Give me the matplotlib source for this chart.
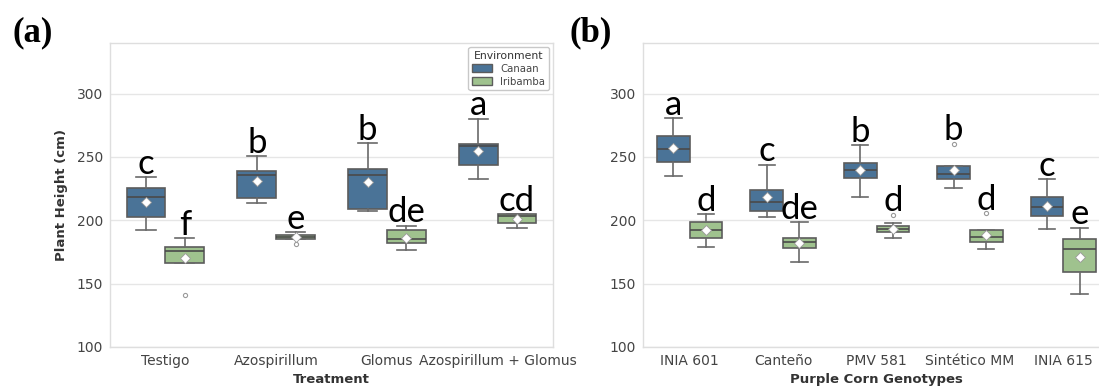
import numpy as np
import matplotlib.pyplot as plt


# data
treatments = ["Testigo", "Azospirillum", "Glomus", "Azospirillum + Glomus"]
genotypes = ["INIA 601", "Canteño", "PMV 581", "Sintético MM", "INIA 615"]
environments = ["Canaan", "Iribamba"]

# panel (a): box stats per treatment, for Canaan and Iribamba
a_canaan_whislo = [192.5, 213.6, 207.0, 232.6]
a_canaan_q1 = [202.5, 217.5, 209.1, 243.3]
a_canaan_med = [218.3, 236.0, 236.0, 258.9]
a_canaan_q3 = [225.2, 239.1, 240.5, 260.5]
a_canaan_whishi = [234.2, 250.4, 261.0, 280.2]
a_canaan_mean = [214.4, 231.2, 230.4, 254.9]
a_canaan_fliers = [[], [], [], []]

a_iri_whislo = [166.2, 185.4, 176.7, 194.3]
a_iri_q1 = [166.2, 185.4, 182.0, 197.8]
a_iri_med = [176.1, 186.7, 185.1, 203.5]
a_iri_q3 = [179.3, 188.5, 192.0, 204.6]
a_iri_whishi = [185.9, 190.7, 195.6, 204.9]
a_iri_mean = [170.1, 186.5, 186.2, 201.2]
a_iri_fliers = [[141.3], [181.4], [], []]

a_canaan_letters = ["c", "b", "b", "a"]
a_iri_letters = ["f", "e", "de", "cd"]

# panel (b): box stats per genotype
b_canaan_whislo = [234.6, 202.5, 218.3, 225.5, 193.0]
b_canaan_q1 = [246.2, 207.7, 233.8, 232.8, 203.6]
b_canaan_med = [256.0, 214.4, 239.9, 236.8, 210.9]
b_canaan_q3 = [266.3, 224.1, 245.2, 242.5, 218.6]
b_canaan_whishi = [280.5, 243.9, 259.1, 242.5, 232.6]
b_canaan_mean = [256.8, 218.3, 239.5, 239.6, 211.7]
b_canaan_fliers = [[], [], [], [260.5], []]

b_iri_whislo = [179.3, 167.0, 186.4, 177.2, 142.1]
b_iri_q1 = [185.9, 178.3, 190.4, 183.2, 159.5]
b_iri_med = [192.5, 182.5, 193.0, 186.7, 177.2]
b_iri_q3 = [198.6, 186.4, 195.6, 192.0, 185.6]
b_iri_whishi = [204.9, 198.3, 197.8, 192.0, 194.3]
b_iri_mean = [192.0, 182.0, 193.0, 188.5, 171.4]
b_iri_fliers = [[], [], [204.3], [205.7], []]

b_canaan_letters = ["a", "c", "b", "b", "c"]
b_iri_letters = ["d", "de", "d", "d", "e"]

colors = {"Canaan": "#4a7397", "Iribamba": "#9fc28e"}


def make_stats(whislo, q1, med, q3, whishi, mean, fliers):
    return [dict(whislo=w0, q1=a, med=m, q3=b, whishi=w1, mean=mu, fliers=f)
            for w0, a, m, b, w1, mu, f in zip(whislo, q1, med, q3, whishi, mean, fliers)]


def draw_panel(ax, cats, groups, xlabel, ylabel):
    n = len(cats)
    x = np.arange(n)
    for (env, stats, letters), off in zip(groups, [-0.175, 0.175]):
        pos = x + off
        ax.bxp(stats, positions=pos, widths=0.35, patch_artist=True,
               showmeans=True, showfliers=True, capwidths=0.175,
               boxprops=dict(facecolor=colors[env], edgecolor="#5c5c5c", linewidth=1.2),
               medianprops=dict(color="#4a4a4a", linewidth=1.2),
               whiskerprops=dict(color="#6a6a6a", linewidth=1.2),
               capprops=dict(color="#6a6a6a", linewidth=1.2),
               meanprops=dict(marker="D", markerfacecolor="white", markeredgecolor="#999999",
                              markersize=5.5, markeredgewidth=0.6),
               flierprops=dict(marker="o", markerfacecolor="none", markeredgecolor="#9a9a9a",
                               markersize=3, markeredgewidth=0.8),
               manage_ticks=False, zorder=3)
        for p, s, lab in zip(pos, stats, letters):
            top = max([s["whishi"]] + list(s["fliers"]))
            t = ax.annotate(lab, (p, top), xytext=(0, 2.5), textcoords="offset points",
                            ha="center", va="baseline", fontsize=25, family="Lato",
                            color="black", zorder=5)
            t.set_path_effects([])
    ax.set_xticks(x)
    ax.set_xticklabels(cats)
    ax.set_xlim(-0.5, n - 0.5)
    ax.set_ylim(100, 340)
    ax.set_yticks([100, 150, 200, 250, 300])
    ax.yaxis.grid(True, color="#e6e6e6", linewidth=1, zorder=0)
    ax.set_axisbelow(True)
    for sp in ax.spines.values():
        sp.set_color("#dedede")
        sp.set_linewidth(1)
    ax.tick_params(length=0, labelsize=10, labelcolor="#444444", pad=5)
    ax.set_xlabel(xlabel, fontsize=9.5, fontweight="bold", color="#333333", labelpad=4)
    if ylabel:
        ax.set_ylabel(ylabel, fontsize=9.5, fontweight="bold", color="#333333", labelpad=6)


fig = plt.figure(figsize=(10.99, 3.87), dpi=100)
ax_a = fig.add_axes([0.1001, 0.1034, 0.4031, 0.7855])
ax_b = fig.add_axes([0.5851, 0.1034, 0.4249, 0.7855])

groups_a = [
    ("Canaan", make_stats(a_canaan_whislo, a_canaan_q1, a_canaan_med, a_canaan_q3,
                          a_canaan_whishi, a_canaan_mean, a_canaan_fliers), a_canaan_letters),
    ("Iribamba", make_stats(a_iri_whislo, a_iri_q1, a_iri_med, a_iri_q3,
                            a_iri_whishi, a_iri_mean, a_iri_fliers), a_iri_letters),
]
groups_b = [
    ("Canaan", make_stats(b_canaan_whislo, b_canaan_q1, b_canaan_med, b_canaan_q3,
                          b_canaan_whishi, b_canaan_mean, b_canaan_fliers), b_canaan_letters),
    ("Iribamba", make_stats(b_iri_whislo, b_iri_q1, b_iri_med, b_iri_q3,
                            b_iri_whishi, b_iri_mean, b_iri_fliers), b_iri_letters),
]

draw_panel(ax_a, treatments, groups_a, "Treatment", "Plant Height (cm)")
draw_panel(ax_b, genotypes, groups_b, "Purple Corn Genotypes", None)

# legend on panel (a)
handles = [plt.Rectangle((0, 0), 1, 1, facecolor=colors[e], edgecolor="#5c5c5c", linewidth=1)
           for e in environments]
leg = ax_a.legend(handles, environments, title="Environment", loc="upper right",
                  fontsize=7.3, title_fontsize=7.8, borderaxespad=0.4, frameon=True,
                  handlelength=2.0, handleheight=0.8, labelspacing=0.3, borderpad=0.35)
leg.get_frame().set_edgecolor("#bbbbbb")
leg.get_frame().set_linewidth(1)
leg.get_title().set_color("#333333")
for t in leg.get_texts():
    t.set_color("#444444")

fig.text(0.011, 0.915, "(a)", fontsize=25, fontweight="bold", family="Liberation Serif",
         va="center", ha="left")
fig.text(0.518, 0.915, "(b)", fontsize=25, fontweight="bold", family="Liberation Serif",
         va="center", ha="left")

plt.savefig("out.png", dpi=100, facecolor="white")
